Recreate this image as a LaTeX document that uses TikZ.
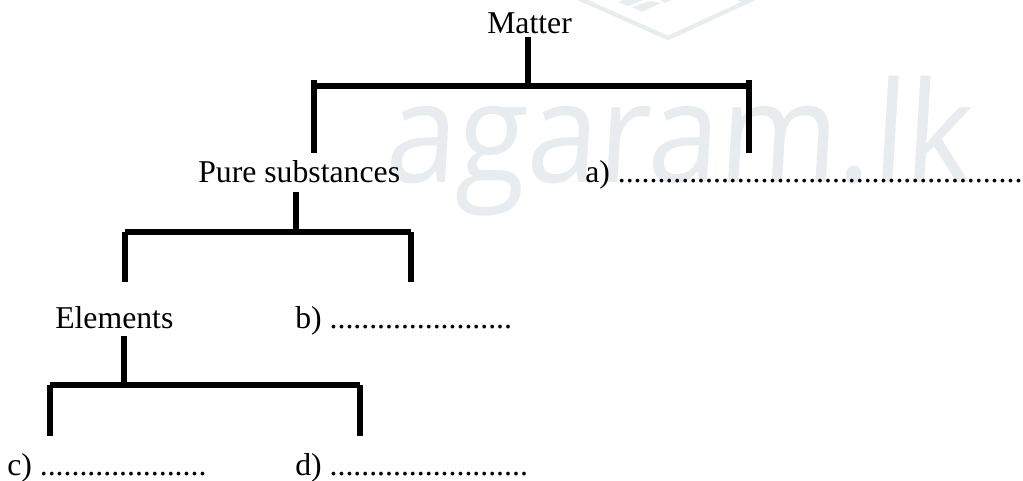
\documentclass[tikz,border=0pt]{standalone}
\usepackage{fontspec}
\setmainfont{Liberation Serif}
\newfontfamily\wmfont[FakeStretch=0.915,FakeSlant=0.06]{Open Sans}
\definecolor{wm}{HTML}{E9ECEF}
\tikzset{
  lab/.style={anchor=base west,inner sep=0pt,font=\fontsize{23.8pt}{28pt}\selectfont,text=black},
  conn/.style={line width=4.1pt,line cap=butt,draw=black},
  wmline/.style={line width=3.2pt,draw=wm,line join=round},
  wmfill/.style={fill=wm,draw=none}
}
\begin{document}
\begin{tikzpicture}[x=0.75pt,y=-0.75pt]
\useasboundingbox (0,0) rectangle (1023,481);
% watermark
\node[anchor=base west,inner sep=0pt,text=wm,font=\wmfont\fontsize{105pt}{105pt}\selectfont] (wmark) at (384,182) {agaram.lk};
\begin{scope}
\clip (0,0) rectangle (1023,481);
\draw[wmline] (578,-2) -- (668,38) -- (755,-2);
\fill[wmfill] (618,2) -- (628,6) -- (643,0) -- (623,0) -- cycle;
\fill[wmfill] (632,7) -- (642,12) -- (661,3) -- (650,1) -- cycle;
\fill[wmfill] (660,0) -- (672,0) -- (665,3) -- cycle;
\fill[wmfill] (737,0) -- (747,0) -- (741,2) -- cycle;
\end{scope}
% labels
\node[lab] (matter) at (487,34) {Matter};
\node[lab] (pure) at (198,182) {Pure substances};
\node[lab] (a) at (585,182) {a) ...................................................};
\node[lab] (elements) at (55,328) {Elements};
\node[lab] (b) at (295,328) {b) .......................};
\node[lab] (c) at (7,475) {c) .....................};
\node[lab] (d) at (295,475) {d) .........................};
% junctions
\coordinate (m0) at (528,37);
\coordinate (m1) at (528,86);
\coordinate (ml) at (314,86);
\coordinate (mr) at (749,86);
\coordinate (mlt) at (314,80);
\coordinate (mrt) at (749,80);
\coordinate (mlb) at (314,153);
\coordinate (mrb) at (749,153);
\coordinate (p0) at (296,192);
\coordinate (p1) at (296,232);
\coordinate (pl) at (125,232);
\coordinate (pr) at (411,232);
\coordinate (plb) at (125,282);
\coordinate (prb) at (411,282);
\coordinate (e0) at (124,336);
\coordinate (e1) at (124,385);
\coordinate (el) at (50,385);
\coordinate (er) at (360,385);
\coordinate (elb) at (50,436);
\coordinate (erb) at (360,436);
\draw[conn] (m0) -- (m1);
\draw[conn] (ml) -- (mr);
\draw[conn] (mlt) -- (mlb);
\draw[conn] (mrt) -- (mrb);
\draw[conn] (p0) -- (p1);
\draw[conn,line width=3.8pt] (pl) -- (pr);
\draw[conn] (pl) -- (plb);
\draw[conn] (pr) -- (prb);
\draw[conn] (e0) -- (e1);
\draw[conn,line width=3.8pt] (el) -- (er);
\draw[conn] (el) -- (elb);
\draw[conn] (er) -- (erb);
\end{tikzpicture}
\end{document}
